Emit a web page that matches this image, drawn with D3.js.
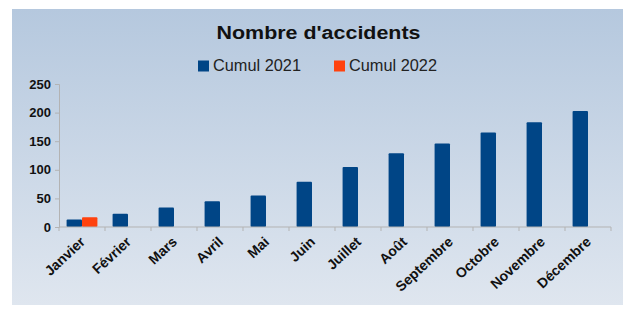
<!DOCTYPE html>
<html>
<head>
<meta charset="utf-8">
<script src="https://cdn.jsdelivr.net/npm/d3@7"></script>
<style>
  body { margin: 0; background: #fff; }
  svg text { font-family: "Liberation Sans", Arial, sans-serif; }
</style>
</head>
<body>
<div id="chart"></div>
<script>
// data
const months = ["Janvier", "Février", "Mars", "Avril", "Mai", "Juin", "Juillet",
  "Août", "Septembre", "Octobre", "Novembre", "Décembre"];
const series = ["Cumul 2021", "Cumul 2022"];
const cumul2021 = [13, 23, 34, 45, 55, 79, 105, 129, 146, 165, 183, 203];
const cumul2022 = [17, null, null, null, null, null, null, null, null, null, null, null];
const yTicks = [0, 50, 100, 150, 200, 250];
const colors = ["#004586", "#ff420e"];

const width = 627, height = 309;
const margin = {left: 59, right: 16, top: 84, bottom: 82};

const svg = d3.select("#chart").append("svg")
  .attr("width", width)
  .attr("height", height);

// background panel
const grad = svg.append("defs").append("linearGradient")
  .attr("id", "bg").attr("x1", 0).attr("y1", 0).attr("x2", 0).attr("y2", 1);
grad.append("stop").attr("offset", "0%").attr("stop-color", "#b5c8de");
grad.append("stop").attr("offset", "100%").attr("stop-color", "#dfe6ef");

svg.append("rect")
  .attr("x", 12).attr("y", 9)
  .attr("width", 611).attr("height", 296)
  .attr("fill", "url(#bg)");

// title
svg.append("text")
  .attr("x", 318.5).attr("y", 38.5)
  .attr("text-anchor", "middle")
  .attr("font-weight", "bold")
  .attr("font-size", 18)
  .attr("textLength", 204)
  .attr("lengthAdjust", "spacingAndGlyphs")
  .attr("fill", "#111")
  .text("Nombre d'accidents");

// legend
const legendX = [198, 334];
const legend = svg.append("g").selectAll("g")
  .data(series)
  .join("g")
  .attr("transform", (d, i) => `translate(${legendX[i]},60.5)`);
legend.append("rect")
  .attr("width", 11).attr("height", 11)
  .attr("fill", (d, i) => colors[i]);
legend.append("text")
  .attr("x", 15).attr("y", 10.5)
  .attr("font-size", 16)
  .attr("textLength", 88)
  .attr("lengthAdjust", "spacingAndGlyphs")
  .attr("fill", "#222")
  .text(d => d);

// scales
const x = d3.scaleBand()
  .domain(months)
  .range([margin.left, width - margin.right])
  .paddingInner(0.33)
  .paddingOuter(0.165);

const xBand = d3.scaleBand()
  .domain(months)
  .range([margin.left, width - margin.right]);

const xSub = d3.scaleBand()
  .domain(series)
  .range([0, x.bandwidth()]);

const y = d3.scaleLinear()
  .domain([0, 250])
  .range([height - margin.bottom, margin.top]);

// bars
const rows = months.map((m, i) => ({month: m, values: [cumul2021[i], cumul2022[i]]}));

svg.append("g").selectAll("g")
  .data(rows)
  .join("g")
  .attr("transform", d => `translate(${x(d.month)},0)`)
  .selectAll("rect")
  .data(d => d.values.map((v, i) => ({key: series[i], value: v, i})).filter(e => e.value != null))
  .join("rect")
  .attr("x", d => xSub(d.key))
  .attr("y", d => y(d.value))
  .attr("width", xSub.bandwidth())
  .attr("height", d => y(0) - y(d.value))
  .attr("rx", 1)
  .attr("fill", d => colors[d.i]);

// y axis
const yAxis = svg.append("g")
  .attr("transform", `translate(${margin.left},0)`)
  .call(d3.axisLeft(y).tickValues(yTicks).tickSize(4).tickPadding(4));
yAxis.select(".domain").attr("stroke", "#b3b3b3");
yAxis.selectAll(".tick line").attr("stroke", "#b3b3b3");
yAxis.selectAll("text")
  .attr("font-size", 13)
  .attr("font-weight", "bold")
  .attr("font-family", "Liberation Sans, Arial, sans-serif")
  .attr("fill", "#111");

// x axis line and ticks at band boundaries
const baseY = y(0);
const xg = svg.append("g");
xg.append("line")
  .attr("x1", margin.left).attr("x2", width - margin.right)
  .attr("y1", baseY).attr("y2", baseY)
  .attr("stroke", "#b3b3b3");
xg.selectAll("line.tk")
  .data(months.concat(["end"]))
  .join("line")
  .attr("class", "tk")
  .attr("x1", (d, i) => i < months.length ? xBand(d) : width - margin.right)
  .attr("x2", (d, i) => i < months.length ? xBand(d) : width - margin.right)
  .attr("y1", baseY).attr("y2", baseY + 4)
  .attr("stroke", "#b3b3b3");

// x labels rotated
xg.selectAll("text")
  .data(months)
  .join("text")
  .attr("transform", d => `translate(${xBand(d) + xBand.bandwidth() / 2 + 4},${baseY + 16}) rotate(-43)`)
  .attr("text-anchor", "end")
  .attr("font-size", 14)
  .attr("font-weight", "bold")
  .attr("fill", "#111")
  .text(d => d);
</script>
</body>
</html>
